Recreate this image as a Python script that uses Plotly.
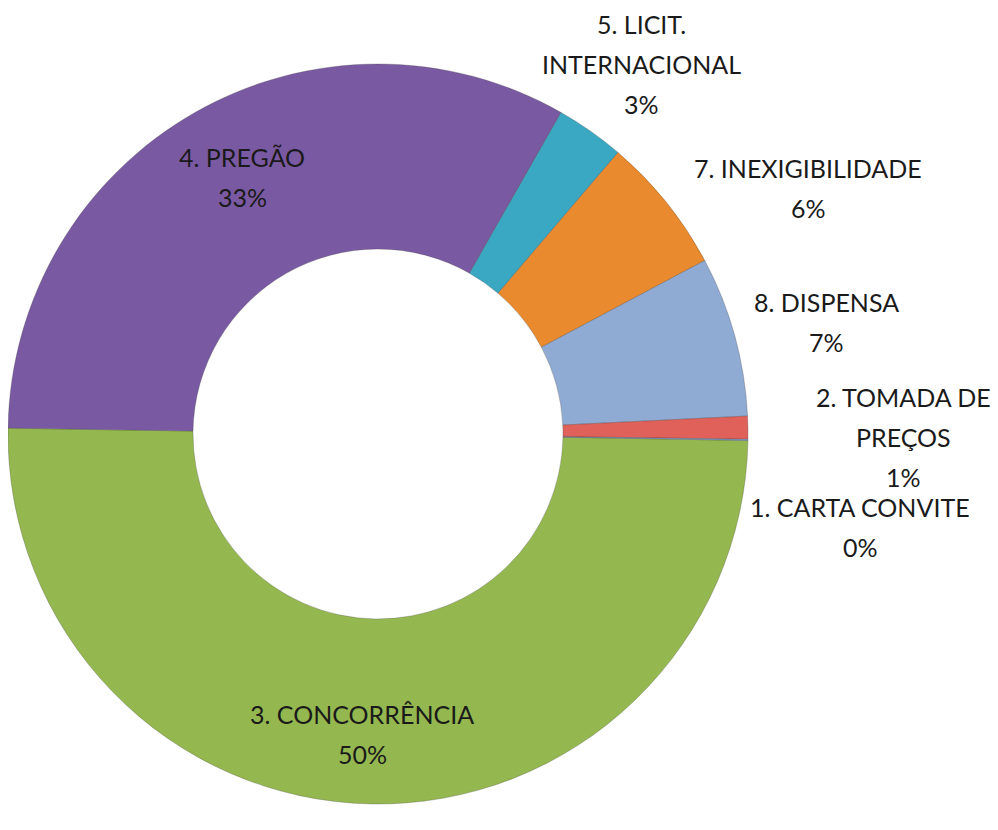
import plotly.graph_objects as go

# page is shown with an 8px body margin; figure fits inside the window
OFF = 8
W, H = 982, 814

# Data (clockwise order, starting just below 3 o'clock)
categories = ["3. CONCORRÊNCIA", "4. PREGÃO", "5. LICIT. INTERNACIONAL",
              "7. INEXIGIBILIDADE", "8. DISPENSA", "2. TOMADA DE PREÇOS",
              "1. CARTA CONVITE"]
label_lines = [["3. CONCORRÊNCIA"], ["4. PREGÃO"], ["5. LICIT.", "INTERNACIONAL"],
               ["7. INEXIGIBILIDADE"], ["8. DISPENSA"], ["2. TOMADA DE", "PREÇOS"],
               ["1. CARTA CONVITE"]]
values = [50, 33, 3, 6, 7, 1, 0.05]
colors = ["#94B84F", "#7A59A3", "#3AA7C3", "#EA8A2F", "#8FAAD3", "#E0605A", "#7F9FD0"]

# label block centres (page pixels) and line pitch
label_pos = [(362, 734), (242, 177), (641, 64), (808, 188), (826, 322), (903, 437), (860, 527)]
line_pitch = 40

fig = go.Figure(go.Pie(
    labels=categories,
    values=values,
    textinfo="none",
    hole=0.5,
    sort=False,
    direction="clockwise",
    rotation=91,
    marker=dict(colors=colors, line=dict(color="rgba(60,60,60,0.35)", width=0.8)),
    domain=dict(x=[0.0, 740 / W], y=[18 / H, 758 / H]),
    showlegend=False,
))

total = sum(values)
annotations = []
for lines, v, (px, py) in zip(label_lines, values, label_pos):
    all_lines = lines + [f"{round(v / total * 100):.0f}%"]
    n = len(all_lines)
    for i, t in enumerate(all_lines):
        y = py + (i - (n - 1) / 2) * line_pitch
        annotations.append(dict(
            x=(px - OFF) / W, y=1 - (y - OFF) / H, xref="paper", yref="paper",
            text=t, showarrow=False, xanchor="center", yanchor="middle",
            font=dict(family="Lato", size=25, color="#1a1a1a"),
        ))

fig.update_layout(
    width=W, height=H,
    margin=dict(l=0, r=0, t=0, b=0),
    paper_bgcolor="white",
    plot_bgcolor="white",
    showlegend=False,
    annotations=annotations,
)

fig.write_html("out.html")
